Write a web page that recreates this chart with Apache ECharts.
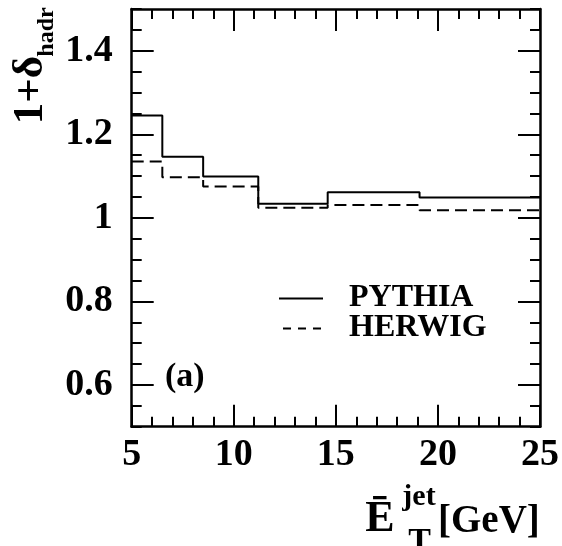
<!DOCTYPE html>
<html>
<head>
<meta charset="utf-8">
<script src="https://cdn.jsdelivr.net/npm/echarts@6/dist/echarts.min.js"></script>
<style>
html,body{margin:0;padding:0;background:#fff;}
#chart{width:562px;height:546px;}
</style>
</head>
<body>
<div id="chart"></div>
<script>
// Bin edges (GeV) and hadronisation correction per bin
var binEdges = [5, 6.5, 8.5, 11.2, 14.6, 19.1, 25];
var pythia = [1.245, 1.146, 1.099, 1.034, 1.061, 1.049];
var herwig = [1.135, 1.097, 1.075, 1.024, 1.031, 1.018];
var yMajorTicks = [0.6, 0.8, 1.0, 1.2, 1.4];
var seriesNames = ['PYTHIA', 'HERWIG'];

function stepData(vals) {
  var d = [];
  for (var i = 0; i < vals.length; i++) d.push([binEdges[i], vals[i]]);
  d.push([binEdges[binEdges.length - 1], vals[vals.length - 1]]);
  return d;
}

var FONT = '"Liberation Serif", "Times New Roman", serif';
var chart = echarts.init(document.getElementById('chart'), null, {renderer: 'canvas'});

var frameLine = {show: true, lineStyle: {color: '#000', width: 2.5}};
var minorY = function (pos, line) {
  return {
    type: 'value', position: pos, min: 0.5, max: 1.5, interval: 0.05,
    axisLine: line ? frameLine : {show: false},
    axisTick: {show: true, inside: true, length: 10, lineStyle: {color: '#000', width: 2}},
    axisLabel: {show: false}, splitLine: {show: false}
  };
};
var majorY = function (pos, labels) {
  return {
    type: 'value', position: pos, min: 0.5, max: 1.5,
    axisLine: {show: false},
    axisTick: {show: true, inside: true, length: 22, customValues: yMajorTicks, lineStyle: {color: '#000', width: 2}},
    axisLabel: labels ? {
      show: true, customValues: yMajorTicks, margin: 19,
      fontFamily: FONT, fontWeight: 'bold', fontSize: 38, color: '#000',
      formatter: function (v) { return String(+(+v).toFixed(2)); }
    } : {show: false},
    splitLine: {show: false}
  };
};
var xAx = function (pos, labels) {
  return {
    type: 'value', position: pos, min: 5, max: 25, interval: 5,
    axisLine: frameLine,
    axisTick: {show: true, inside: true, length: 22, lineStyle: {color: '#000', width: 2}},
    minorTick: {show: true, splitNumber: 5, length: 10, lineStyle: {color: '#000', width: 2}},
    axisLabel: labels ? {
      show: true, margin: 28, verticalAlign: 'middle',
      fontFamily: FONT, fontWeight: 'bold', fontSize: 38, color: '#000'
    } : {show: false},
    splitLine: {show: false}, minorSplitLine: {show: false}
  };
};

var txt = function (text, x, y, size, align, rot) {
  var el = {
    type: 'text', x: x, y: y, z: 100,
    style: {
      text: text, fill: '#000', align: align || 'left', verticalAlign: 'middle',
      font: 'bold ' + size + 'px ' + FONT
    }
  };
  if (rot) el.rotation = rot;
  return el;
};

var option = {
  animation: false,
  backgroundColor: '#fff',
  grid: {left: 131.7, right: 22, top: 9, bottom: 119.3, containLabel: false},
  xAxis: [xAx('bottom', true), xAx('top', false)],
  yAxis: [minorY('left', true), majorY('left', true), minorY('right', true), majorY('right', false)],
  series: [
    {
      name: seriesNames[0], type: 'line', step: 'end', xAxisIndex: 0, yAxisIndex: 0,
      data: stepData(pythia), symbol: 'none',
      lineStyle: {color: '#000', width: 2, type: 'solid'}
    },
    {
      name: seriesNames[1], type: 'line', step: 'end', xAxisIndex: 0, yAxisIndex: 0,
      data: stepData(herwig), symbol: 'none',
      lineStyle: {color: '#000', width: 2, type: [12, 6]}
    }
  ],
  graphic: [
    // legend
    {type: 'line', shape: {x1: 279, y1: 298.5, x2: 323, y2: 298.5}, style: {stroke: '#000', lineWidth: 2}},
    {type: 'line', shape: {x1: 283, y1: 328.5, x2: 323, y2: 328.5}, style: {stroke: '#000', lineWidth: 2, lineDash: [8, 7]}},
    txt(seriesNames[0], 349, 298, 32),
    txt(seriesNames[1], 349, 328, 32),
    txt('(a)', 165, 377, 34),
    // y-axis title
    txt('1+\u03b4', 31, 90, 43, 'center', Math.PI / 2),
    txt('hadr', 47, 32, 24, 'center', Math.PI / 2),
    // x-axis title
    txt('\u0112', 380, 520, 44, 'center'),
    txt('jet', 419, 497, 30, 'center'),
    txt('T', 419.5, 542, 34, 'center'),
    txt('[GeV]', 438, 522, 39, 'left')
  ]
};
chart.setOption(option);
</script>
</body>
</html>
